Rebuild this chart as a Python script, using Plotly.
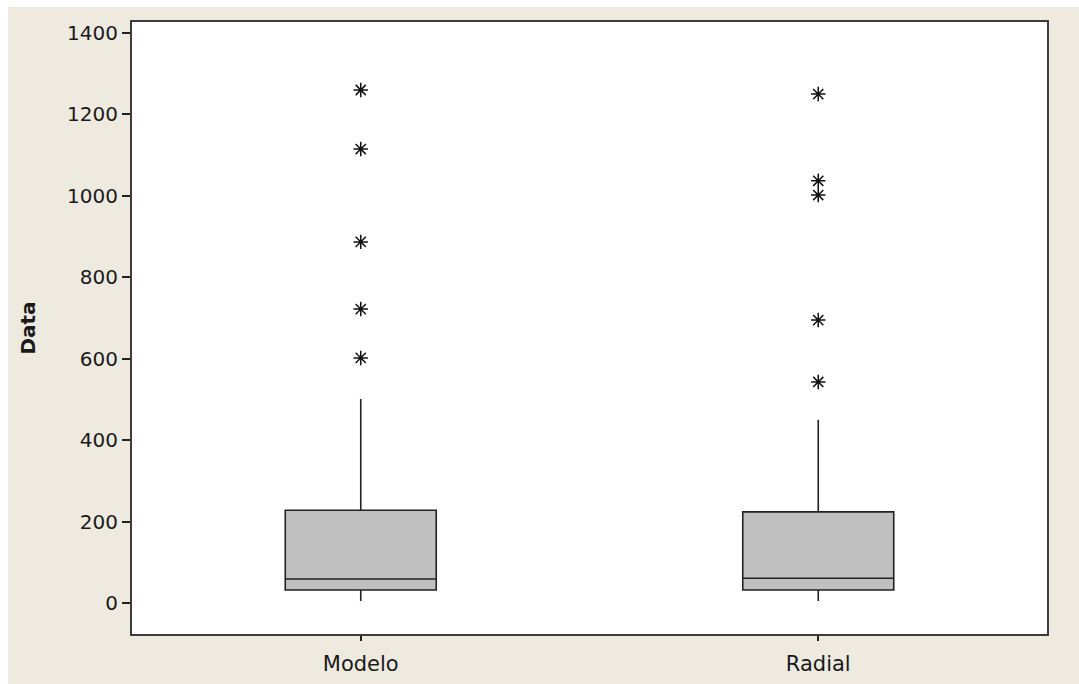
import plotly.graph_objects as go

# Box-plot summary for each group
groups = ["Modelo", "Radial"]
q1 = [32, 32]
median = [59, 61]
q3 = [228, 224]
lower_whisker = [5, 5]
upper_whisker = [501, 450]

# Outlying observations
outliers_modelo = [1260, 1115, 887, 722, 602]
outliers_radial = [1250, 1037, 1002, 695, 543]

y_ticks = [0, 200, 400, 600, 800, 1000, 1200, 1400]

W, H = 1079, 684
ML, MR, MT, MB = 132, 32, 22, 50
BEIGE = "#EEEAE0"
FRAME = "#3c3c3c"
FONT = "DejaVu Sans"

fig = go.Figure()

fig.add_trace(go.Box(
    x=groups,
    q1=q1, median=median, q3=q3,
    lowerfence=lower_whisker, upperfence=upper_whisker,
    fillcolor="#C0C0C0",
    line=dict(color="#222222", width=1.6),
    whiskerwidth=0,
    width=0.33,
    boxpoints=False,
    hoverinfo="skip",
    showlegend=False,
))

for name, vals in [(groups[0], outliers_modelo), (groups[1], outliers_radial)]:
    fig.add_trace(go.Scatter(
        x=[name] * len(vals), y=vals,
        mode="markers",
        marker=dict(symbol="asterisk-open", size=12, color="#111111",
                    line=dict(color="#111111", width=1.5)),
        showlegend=False,
        hoverinfo="skip",
    ))

pw = W - ML - MR
ph = H - MT - MB
# Thin white strips along the top and left edges of the page
fig.add_shape(type="rect", xref="paper", yref="paper", layer="above",
              x0=-ML / pw, x1=(W - ML) / pw,
              y0=(H - MB - 7) / ph, y1=(H - MB) / ph + 0.01,
              fillcolor="white", line=dict(width=0))
fig.add_shape(type="rect", xref="paper", yref="paper", layer="above",
              x0=-ML / pw - 0.01, x1=(8 - ML) / pw,
              y0=-MB / ph - 0.01, y1=(H - MB) / ph + 0.01,
              fillcolor="white", line=dict(width=0))

fig.update_layout(
    width=W, height=H,
    margin=dict(l=ML, r=MR, t=MT, b=MB),
    paper_bgcolor=BEIGE,
    plot_bgcolor="white",
    font=dict(family=FONT, size=20, color="#1a1a1a"),
    xaxis=dict(
        type="category",
        range=[-0.5, 1.5],
        automargin=False,
        showgrid=False, zeroline=False,
        showline=True, linecolor=FRAME, linewidth=2, mirror=True,
        ticks="outside", ticklen=5, tickcolor="#222222", tickwidth=1.5,
        ticklabelstandoff=5,
        tickfont=dict(family=FONT, size=21),
    ),
    yaxis=dict(
        range=[-76, 1427],
        tickvals=y_ticks,
        automargin=False,
        showgrid=False, zeroline=False,
        showline=True, linecolor=FRAME, linewidth=2, mirror=True,
        ticks="outside", ticklen=8, tickcolor="#222222", tickwidth=1.5,
        tickfont=dict(family=FONT, size=20),
        title=dict(text="<b>Data</b>", font=dict(family=FONT, size=20),
                   standoff=26),
    ),
)

fig.write_html("out.html")
